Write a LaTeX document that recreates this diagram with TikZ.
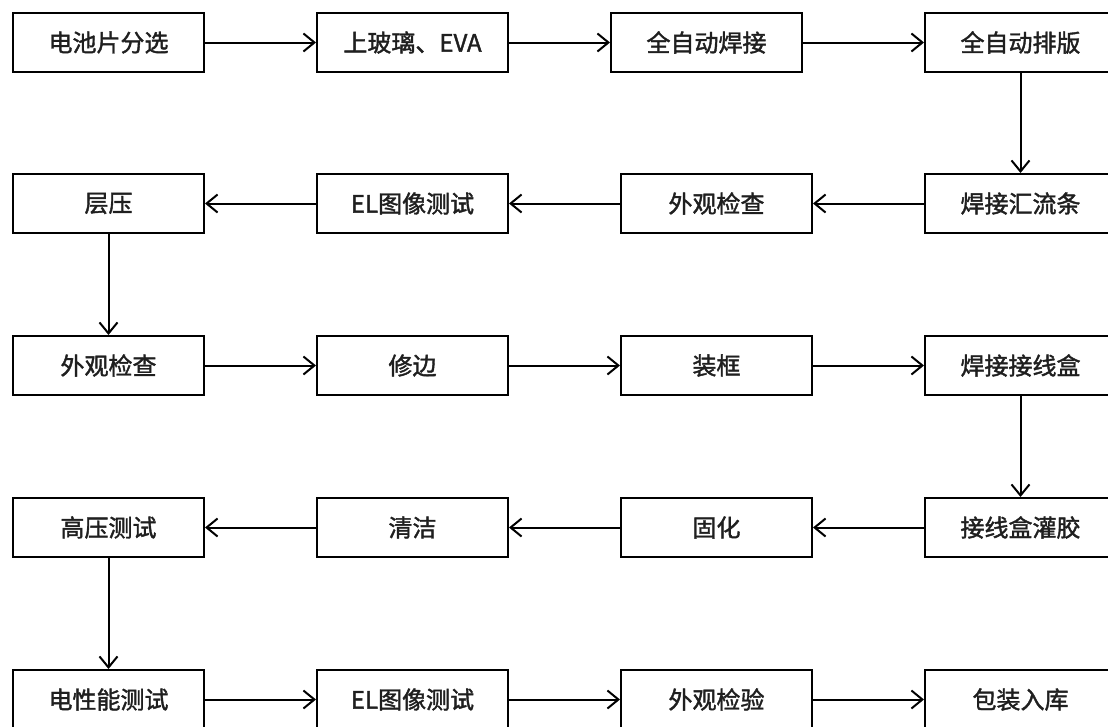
\documentclass[tikz,border=0pt]{standalone}
\usepackage{fontspec}
\setmainfont{Noto Sans CJK SC}[BoldFont={Noto Sans CJK SC},BoldFeatures={FakeBold=1.6}]
\usetikzlibrary{arrows.meta}
\tikzset{
  box/.style={draw=black, line width=2pt, rectangle, minimum width=191pt, minimum height=59pt, inner sep=0pt, font=\fontsize{24pt}{28pt}\selectfont\bfseries, text=black!88},
  flow/.style={draw=black, line width=2pt, -{Straight Barb[length=11pt,width=18pt,line width=2pt]}}
}
\begin{document}
\begin{tikzpicture}[x=1pt,y=-1pt]
\clip (0,0) rectangle (1108,726);
\fill[white] (0,0) rectangle (1108,726);
% row 1
\node[box] (a1) at (108.5,42.5) {电池片分选};
\node[box] (a2) at (412.5,42.5) {上玻璃、EVA};
\node[box] (a3) at (706.5,42.5) {全自动焊接};
\node[box] (a4) at (1020.5,42.5) {全自动排版};
% row 2
\node[box] (b4) at (1020.5,203.5) {焊接汇流条};
\node[box] (b3) at (716.5,203.5) {外观检查};
\node[box] (b2) at (412.5,203.5) {EL图像测试};
\node[box] (b1) at (108.5,203.5) {层压};
% row 3
\node[box] (c1) at (108.5,365.5) {外观检查};
\node[box] (c2) at (412.5,365.5) {修边};
\node[box] (c3) at (716.5,365.5) {装框};
\node[box] (c4) at (1020.5,365.5) {焊接接线盒};
% row 4
\node[box] (d4) at (1020.5,527.5) {接线盒灌胶};
\node[box] (d3) at (716.5,527.5) {固化};
\node[box] (d2) at (412.5,527.5) {清洁};
\node[box] (d1) at (108.5,527.5) {高压测试};
% row 5
\node[box] (e1) at (108.5,699.5) {电性能测试};
\node[box] (e2) at (412.5,699.5) {EL图像测试};
\node[box] (e3) at (716.5,699.5) {外观检验};
\node[box] (e4) at (1020.5,699.5) {包装入库};
% connectors
\draw[flow] (a1) -- (a2);
\draw[flow] (a2) -- (a3);
\draw[flow] (a3) -- (a4);
\draw[flow] (a4) -- (b4);
\draw[flow] (b4) -- (b3);
\draw[flow] (b3) -- (b2);
\draw[flow] (b2) -- (b1);
\draw[flow] (b1) -- (c1);
\draw[flow] (c1) -- (c2);
\draw[flow] (c2) -- (c3);
\draw[flow] (c3) -- (c4);
\draw[flow] (c4) -- (d4);
\draw[flow] (d4) -- (d3);
\draw[flow] (d3) -- (d2);
\draw[flow] (d2) -- (d1);
\draw[flow] (d1) -- (e1);
\draw[flow] (e1) -- (e2);
\draw[flow] (e2) -- (e3);
\draw[flow] (e3) -- (e4);
\end{tikzpicture}
\end{document}
